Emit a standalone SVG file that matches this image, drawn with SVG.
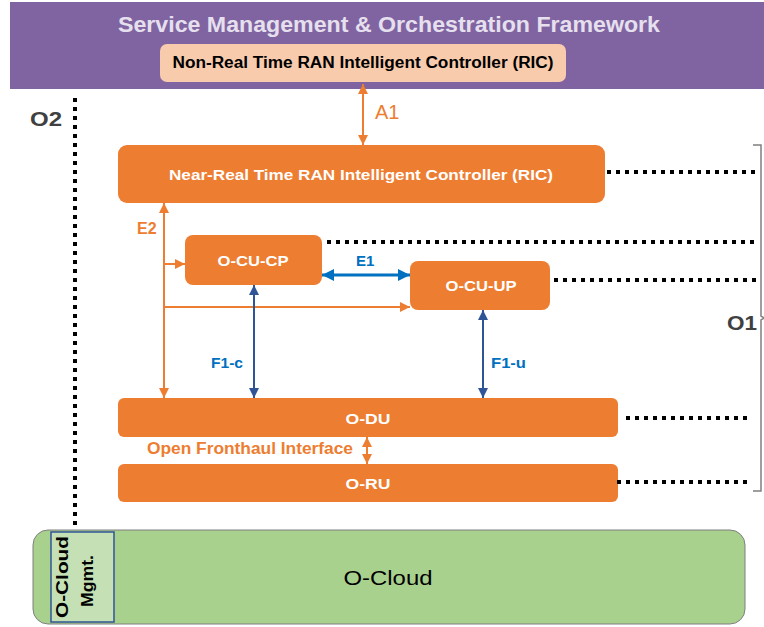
<svg xmlns="http://www.w3.org/2000/svg" width="764" height="627" viewBox="0 0 764 627">
<defs>
<style>
text{font-family:"Liberation Sans","Open Sans",Arial,sans-serif;}
.box{fill:#ed7d31;}
.wt{fill:#ffffff;font-weight:bold;font-size:15px;text-anchor:middle;}
.dot{stroke:#000;stroke-width:4;stroke-dasharray:4 5;fill:none;}
.or{stroke:#ed7d31;stroke-width:2;fill:none;}
.bl{stroke:#2f5597;stroke-width:2;fill:none;}
.e1{stroke:#0070c0;stroke-width:3;fill:none;}
.ol{fill:#ed7d31;font-weight:bold;font-size:16px;}
.bll{fill:#0070c0;font-weight:bold;font-size:15px;}
.gr{fill:#404040;font-weight:bold;font-size:21px;}
</style>
<marker id="ao" viewBox="0 0 10 10" refX="10" refY="5" markerWidth="10" markerHeight="10" markerUnits="userSpaceOnUse" orient="auto-start-reverse"><path d="M0,0 L10,5 L0,10 z" fill="#ed7d31"/></marker>
<marker id="ab" viewBox="0 0 10 10" refX="10" refY="5" markerWidth="10" markerHeight="10" markerUnits="userSpaceOnUse" orient="auto-start-reverse"><path d="M0,0 L10,5 L0,10 z" fill="#2f5597"/></marker>
<marker id="ae" viewBox="0 0 10 10" refX="10" refY="5" markerWidth="12" markerHeight="12" markerUnits="userSpaceOnUse" orient="auto-start-reverse"><path d="M0,0 L10,5 L0,10 z" fill="#0070c0"/></marker>
</defs>
<rect width="764" height="627" fill="#ffffff"/>

<g id="smo">
<rect x="10" y="2" width="754" height="87" fill="#8064a2"/>
<text x="389" y="32" text-anchor="middle" font-size="22" font-weight="bold" fill="#e6e0ee" textLength="542" lengthAdjust="spacingAndGlyphs">Service Management &amp; Orchestration Framework</text>
</g>
<g id="nonrt-ric">
<rect x="160" y="44" width="406" height="38" rx="7" fill="#f8cbad"/>
<text x="363" y="68" text-anchor="middle" font-size="16" font-weight="bold" fill="#000" textLength="381" lengthAdjust="spacingAndGlyphs">Non-Real Time RAN Intelligent Controller (RIC)</text>
</g>
<g id="nearrt-ric">
<rect class="box" x="118" y="145" width="487" height="58" rx="9"/>
<text class="wt" x="361" y="180" font-size="16" textLength="384" lengthAdjust="spacingAndGlyphs">Near-Real Time RAN Intelligent Controller (RIC)</text>
</g>
<g id="o-cu-cp">
<rect class="box" x="185" y="235" width="137" height="50" rx="8"/>
<text class="wt" x="253" y="266" font-size="17" textLength="71" lengthAdjust="spacingAndGlyphs">O-CU-CP</text>
</g>
<g id="o-cu-up">
<rect class="box" x="410" y="261" width="140" height="49" rx="8"/>
<text class="wt" x="481" y="291" font-size="17" textLength="71" lengthAdjust="spacingAndGlyphs">O-CU-UP</text>
</g>
<g id="o-du">
<rect class="box" x="118" y="398" width="500" height="39" rx="6"/>
<text class="wt" x="368" y="424" font-size="17" textLength="45" lengthAdjust="spacingAndGlyphs">O-DU</text>
</g>
<g id="o-ru">
<rect class="box" x="118" y="464" width="500" height="38" rx="6"/>
<text class="wt" x="368" y="489" font-size="17" textLength="45" lengthAdjust="spacingAndGlyphs">O-RU</text>
</g>
<g id="o-cloud">
<rect x="33" y="530" width="712" height="94" rx="15" fill="#a9d18e" stroke="#7f7f7f" stroke-width="1"/>
<text x="388" y="585" text-anchor="middle" font-size="21" fill="#000" textLength="89" lengthAdjust="spacingAndGlyphs">O-Cloud</text>
</g>
<g id="o-cloud-mgmt">
<rect x="51" y="532" width="63" height="90" fill="#c5e0b4" stroke="#2f5597" stroke-width="1.5"/>
<text transform="translate(68,577) rotate(-90)" text-anchor="middle" font-size="17" font-weight="bold" fill="#000" textLength="82" lengthAdjust="spacingAndGlyphs">O-Cloud</text>
<text transform="translate(93,581) rotate(-90)" text-anchor="middle" font-size="17" font-weight="bold" fill="#000" textLength="52" lengthAdjust="spacingAndGlyphs">Mgmt.</text>
</g>

<g id="connectors">
<line class="or" x1="363" y1="84" x2="363" y2="145" marker-start="url(#ao)" marker-end="url(#ao)"/>
<line class="or" x1="164" y1="398" x2="164" y2="203" marker-start="url(#ao)" marker-end="url(#ao)"/>
<line class="or" x1="164" y1="264" x2="185" y2="264" marker-end="url(#ao)"/>
<line class="or" x1="164" y1="307" x2="410" y2="307" marker-end="url(#ao)"/>
<line class="e1" x1="322" y1="275" x2="410" y2="275" marker-start="url(#ae)" marker-end="url(#ae)"/>
<line class="bl" x1="254" y1="285" x2="254" y2="398" marker-start="url(#ab)" marker-end="url(#ab)"/>
<line class="bl" x1="483" y1="310" x2="483" y2="398" marker-start="url(#ab)" marker-end="url(#ab)"/>
<line class="or" x1="367" y1="437" x2="367" y2="464" marker-start="url(#ao)" marker-end="url(#ao)"/>
<line class="dot" x1="75" y1="98" x2="75" y2="530"/>
<line class="dot" x1="607" y1="172" x2="757" y2="172"/>
<line class="dot" x1="327" y1="242" x2="757" y2="242"/>
<line class="dot" x1="554" y1="280" x2="757" y2="280"/>
<line class="dot" x1="626" y1="418" x2="750" y2="418"/>
<line class="dot" x1="617" y1="482" x2="750" y2="482"/>
<path d="M753,145 H761 V316 L764,318 L761,320 V491 H753" fill="none" stroke="#7f7f7f" stroke-width="1.5"/>
</g>

<g id="labels">
<text x="375" y="119" font-size="20" fill="#ed7d31">A1</text>
<text class="gr" x="30" y="126" textLength="32" lengthAdjust="spacingAndGlyphs">O2</text>
<text class="gr" x="727" y="330" textLength="30" lengthAdjust="spacingAndGlyphs">O1</text>
<text class="ol" x="137" y="234">E2</text>
<text class="bll" x="356" y="266" font-size="16">E1</text>
<text class="bll" x="211" y="368" textLength="32" lengthAdjust="spacingAndGlyphs">F1-c</text>
<text class="bll" x="491" y="368" textLength="35" lengthAdjust="spacingAndGlyphs">F1-u</text>
<text x="147" y="454" font-size="16" font-weight="bold" fill="#ed7d31" textLength="206" lengthAdjust="spacingAndGlyphs">Open Fronthaul Interface</text>
</g>
</svg>
